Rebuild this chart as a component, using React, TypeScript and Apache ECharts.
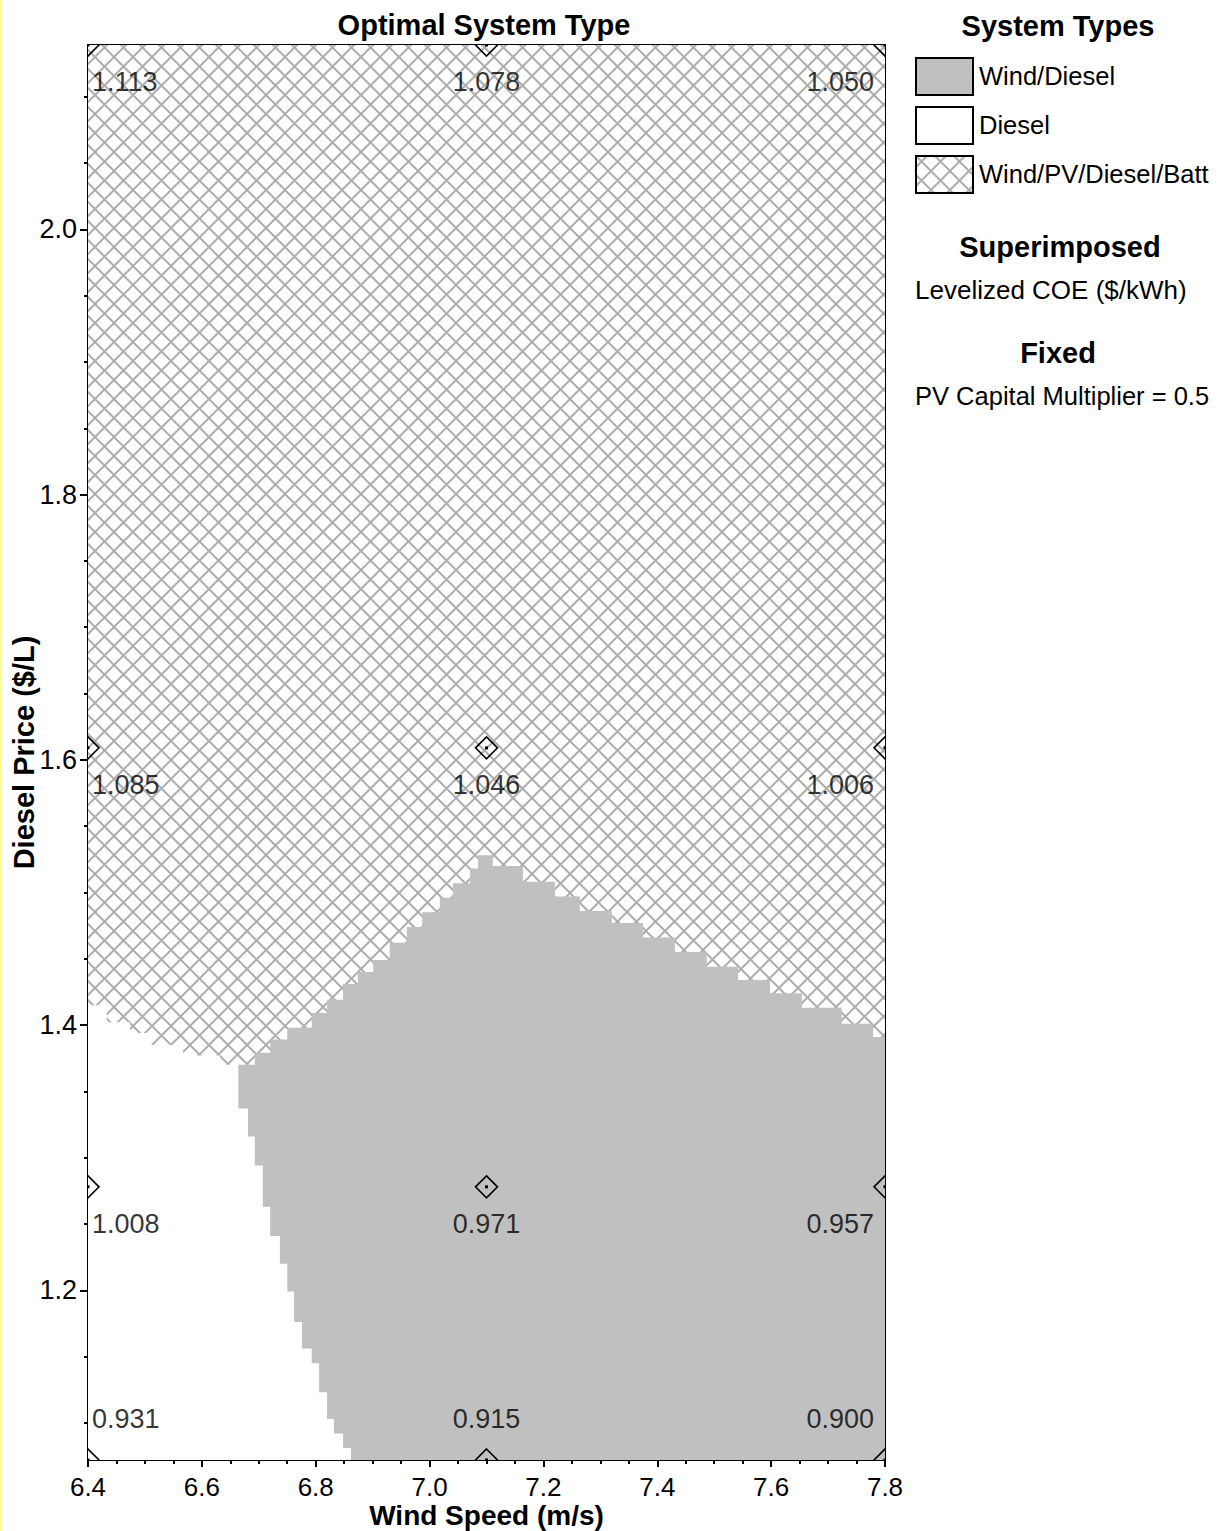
import React, { useEffect, useRef } from 'react';
import * as echarts from 'echarts';

const FONT = '"Liberation Sans", Arial, Helvetica, sans-serif';

// ---- Sensitivity grid (superimposed levelized COE, $/kWh) ----
const windSpeeds = [6.4, 7.1, 7.8];
const dieselPrices = [1.072, 1.278, 1.609, 2.139];
const coeAtPrice1072 = [0.931, 0.915, 0.9];
const coeAtPrice1278 = [1.008, 0.971, 0.957];
const coeAtPrice1609 = [1.085, 1.046, 1.006];
const coeAtPrice2139 = [1.113, 1.078, 1.05];
const coeRows = [coeAtPrice1072, coeAtPrice1278, coeAtPrice1609, coeAtPrice2139];

// ---- Axis ticks ----
const yTickValues = [1.2, 1.4, 1.6, 1.8, 2.0];
const yMinorTickValues = [1.1, 1.15, 1.25, 1.3, 1.35, 1.45, 1.5, 1.55, 1.65, 1.7, 1.75, 1.85, 1.9, 1.95, 2.05, 2.1];

// ---- Optimal system type boundaries (stair steps) ----
// Wind/Diesel region, upper edge: each step starts at a wind speed with a price level
const windDieselTopStartWind = [6.664, 6.693, 6.72, 6.75, 6.793, 6.82, 6.848, 6.874, 6.901, 6.93, 6.96, 6.987, 7.018, 7.041, 7.071, 7.085, 7.111, 7.164, 7.22, 7.264, 7.32, 7.375, 7.431, 7.487, 7.542, 7.598, 7.654, 7.724, 7.779];
const windDieselTopPrice = [1.37, 1.379, 1.389, 1.398, 1.409, 1.419, 1.431, 1.44, 1.449, 1.462, 1.474, 1.485, 1.496, 1.507, 1.518, 1.528, 1.52, 1.508, 1.497, 1.486, 1.477, 1.466, 1.455, 1.444, 1.434, 1.424, 1.413, 1.401, 1.391];
// Wind/Diesel region, left edge: each row starts at a price (top of row) with a wind speed
const windDieselLeftWind = [6.664, 6.681, 6.693, 6.707, 6.72, 6.737, 6.75, 6.762, 6.776, 6.793, 6.806, 6.82, 6.832, 6.848, 6.862];
const windDieselLeftTopPrice = [1.37, 1.337, 1.316, 1.294, 1.263, 1.241, 1.22, 1.199, 1.176, 1.156, 1.145, 1.123, 1.103, 1.092, 1.081];
// Diesel region, upper edge
const dieselTopStartWind = [6.4, 6.433, 6.474, 6.512, 6.567, 6.632];
const dieselTopPrice = [1.415, 1.402, 1.394, 1.385, 1.377, 1.37];

const systemTypes = ['Wind/Diesel', 'Diesel', 'Wind/PV/Diesel/Batt'];

const X_MIN = 6.4;
const X_MAX = 7.8;
const Y_MIN = dieselPrices[0];
const Y_MAX = dieselPrices[dieselPrices.length - 1];

const TILE = 19;
function hatchUrl(t: number) {
  const segs: string[] = [];
  for (const c of [-t, 0, t]) segs.push(`M-2 ${-2 + c}L${t + 2} ${t + 2 + c}`);
  for (const c of [0, t, 2 * t]) segs.push(`M-2 ${c + 2}L${t + 2} ${c - t - 2}`);
  const svg = `<svg xmlns="http://www.w3.org/2000/svg" width="${t}" height="${t}"><rect width="${t}" height="${t}" fill="#ffffff"/><path d="${segs.join('')}" stroke="#aeaeae" stroke-width="2" fill="none"/></svg>`;
  return 'data:image/svg+xml;charset=utf-8,' + encodeURIComponent(svg);
}
const HATCH = { image: hatchUrl(TILE), repeat: 'repeat', imageWidth: TILE, imageHeight: TILE };
const GRAY = '#c0c0c0';

function stairTop(startX: number[], levels: number[], endX: number): number[][] {
  const pts: number[][] = [];
  for (let i = 0; i < startX.length; i++) {
    const x1 = i + 1 < startX.length ? startX[i + 1] : endX;
    pts.push([startX[i], levels[i]], [x1, levels[i]]);
  }
  return pts;
}

function buildWindDiesel(): number[][] {
  const pts = stairTop(windDieselTopStartWind, windDieselTopPrice, X_MAX);
  pts.push([X_MAX, Y_MIN]);
  const n = windDieselLeftWind.length;
  for (let i = n - 1; i >= 0; i--) {
    const lower = i + 1 < n ? windDieselLeftTopPrice[i + 1] : Y_MIN;
    pts.push([windDieselLeftWind[i], lower], [windDieselLeftWind[i], windDieselLeftTopPrice[i]]);
  }
  return pts;
}

function buildDiesel(): number[][] {
  const pts: number[][] = [[X_MIN, Y_MIN]];
  const edge = windDieselLeftWind[0];
  pts.push(...stairTop(dieselTopStartWind, dieselTopPrice, edge));
  const last = dieselTopPrice[dieselTopPrice.length - 1];
  const farX = windDieselLeftWind[windDieselLeftWind.length - 1];
  pts.push([farX, last], [farX, Y_MIN]);
  return pts;
}

function polygonSeries(name: string, points: number[][], fill: any, z: number) {
  return {
    type: 'custom',
    name,
    coordinateSystem: 'cartesian2d',
    xAxisIndex: 0,
    yAxisIndex: 0,
    silent: true,
    clip: true,
    z,
    data: [points[0]],
    renderItem: (_params: any, api: any) => ({
      type: 'polygon',
      shape: { points: points.map((p) => api.coord(p)) },
      style: { fill, stroke: null, lineWidth: 0 },
    }),
  };
}

function buildOption() {
  const markerData: number[][] = [];
  const labelData: any[] = [];
  dieselPrices.forEach((p, ri) => {
    windSpeeds.forEach((w, ci) => {
      markerData.push([w, p]);
      labelData.push({
        value: [w, p],
        label: {
          formatter: coeRows[ri][ci].toFixed(3),
          align: ci === 0 ? 'left' : ci === 1 ? 'center' : 'right',
          offset: [ci === 0 ? 4 : ci === 1 ? 0 : -11, ri === 0 ? -41 : 37],
        },
      });
    });
  });

  const axisLine = { show: true, lineStyle: { color: '#000', width: 2 } };
  const tickStyle = { color: '#000', width: 2 };

  const legendTop = [58, 107, 156];
  const legendFills = [GRAY, '#ffffff', HATCH];

  const graphic: any[] = [
    { type: 'rect', shape: { x: 0, y: 0, width: 2, height: 1531 }, style: { fill: '#ffff88' }, silent: true },
    {
      type: 'text', x: 484, y: 25,
      style: { text: 'Optimal System Type', font: `bold 29px ${FONT}`, fill: '#000', align: 'center', verticalAlign: 'middle' },
    },
    {
      type: 'text', x: 1058, y: 26,
      style: { text: 'System Types', font: `bold 29px ${FONT}`, fill: '#000', align: 'center', verticalAlign: 'middle' },
    },
    {
      type: 'text', x: 1060, y: 247,
      style: { text: 'Superimposed', font: `bold 29px ${FONT}`, fill: '#000', align: 'center', verticalAlign: 'middle' },
    },
    {
      type: 'text', x: 915, y: 290,
      style: { text: 'Levelized COE ($/kWh)', font: `26px ${FONT}`, fill: '#000', align: 'left', verticalAlign: 'middle' },
    },
    {
      type: 'text', x: 1058, y: 353,
      style: { text: 'Fixed', font: `bold 29px ${FONT}`, fill: '#000', align: 'center', verticalAlign: 'middle' },
    },
    {
      type: 'text', x: 915, y: 396,
      style: { text: 'PV Capital Multiplier = 0.5', font: `25.5px ${FONT}`, fill: '#000', align: 'left', verticalAlign: 'middle' },
    },
  ];
  systemTypes.forEach((name, i) => {
    graphic.push({
      type: 'rect',
      shape: { x: 916, y: legendTop[i], width: 57, height: 37 },
      style: { fill: legendFills[i], stroke: '#000', lineWidth: 2 },
    });
    graphic.push({
      type: 'text', x: 979, y: legendTop[i] + 18,
      style: { text: name, font: `25.5px ${FONT}`, fill: '#000', align: 'left', verticalAlign: 'middle' },
    });
  });

  return {
    animation: false,
    backgroundColor: '#ffffff',
    grid: {
      left: 88, top: 45, right: 334, bottom: 71,
      show: true, borderColor: '#000', borderWidth: 2, backgroundColor: 'transparent',
      containLabel: false,
      outerBoundsMode: 'none',
    },
    xAxis: [
      {
        type: 'value', min: X_MIN, max: X_MAX, interval: 0.2, position: 'bottom',
        name: 'Wind Speed (m/s)', nameLocation: 'middle', nameGap: 41, nameMoveOverlap: false,
        nameTextStyle: { fontFamily: FONT, fontSize: 28, fontWeight: 'bold', color: '#000' },
        axisLine,
        axisTick: { show: true, length: 7, lineStyle: tickStyle },
        minorTick: { show: true, splitNumber: 4, length: 4, lineStyle: tickStyle },
        axisLabel: { fontFamily: FONT, fontSize: 26, color: '#000', margin: 14, formatter: (v: number) => v.toFixed(1) },
        splitLine: { show: false },
        minorSplitLine: { show: false },
      },
      {
        type: 'value', min: X_MIN, max: X_MAX, interval: 0.2, position: 'top',
        axisLine,
        axisTick: { show: true, inside: true, length: 5, lineStyle: tickStyle },
        minorTick: { show: true, splitNumber: 4, length: 4, lineStyle: tickStyle },
        axisLabel: { show: false },
        splitLine: { show: false },
      },
    ],
    yAxis: [
      {
        type: 'value', min: Y_MIN, max: Y_MAX, position: 'left',
        name: 'Diesel Price ($/L)', nameLocation: 'middle', nameGap: 50, nameMoveOverlap: false,
        nameTextStyle: { fontFamily: FONT, fontSize: 29, fontWeight: 'bold', color: '#000' },
        axisLine,
        axisTick: { show: true, length: 8, lineStyle: tickStyle, customValues: yTickValues },
        axisLabel: {
          fontFamily: FONT, fontSize: 27, color: '#000', margin: 11,
          customValues: yTickValues, formatter: (v: number) => v.toFixed(1),
        },
        splitLine: { show: false },
      },
      {
        type: 'value', min: Y_MIN, max: Y_MAX, position: 'left',
        axisLine: { show: false },
        axisTick: { show: true, length: 4, lineStyle: tickStyle, customValues: yMinorTickValues },
        axisLabel: { show: false },
        splitLine: { show: false },
      },
    ],
    graphic,
    series: [
      polygonSeries('Wind/PV/Diesel/Batt', [[X_MIN, Y_MIN], [X_MAX, Y_MIN], [X_MAX, Y_MAX], [X_MIN, Y_MAX]], HATCH, 1),
      polygonSeries('Diesel', buildDiesel(), '#ffffff', 2),
      polygonSeries('Wind/Diesel', buildWindDiesel(), GRAY, 3),
      {
        type: 'custom', name: 'sensitivity points', silent: true, clip: true, z: 4,
        coordinateSystem: 'cartesian2d',
        data: markerData,
        renderItem: (_params: any, api: any) => {
          const c = api.coord([api.value(0), api.value(1)]);
          const r = 11;
          return {
            type: 'group',
            children: [
              {
                type: 'polygon',
                shape: { points: [[c[0], c[1] - r], [c[0] + r, c[1]], [c[0], c[1] + r], [c[0] - r, c[1]]] },
                style: { fill: 'none', stroke: '#000', lineWidth: 1.6 },
              },
              {
                type: 'rect',
                shape: { x: c[0] - 1.5, y: c[1] - 1.5, width: 3, height: 3 },
                style: { fill: '#000' },
              },
            ],
          };
        },
      },
      {
        type: 'scatter', name: 'Levelized COE ($/kWh)', silent: true, clip: false, z: 5,
        symbolSize: 1,
        itemStyle: { color: 'rgba(0,0,0,0)' },
        label: {
          show: true, position: 'inside', fontFamily: FONT, fontSize: 27, color: '#000',
          verticalAlign: 'middle',
        },
        data: labelData,
      },
    ],
  };
}

export default function App() {
  const ref = useRef<HTMLDivElement>(null);
  useEffect(() => {
    document.body.style.margin = '0';
    const chart = echarts.init(ref.current as HTMLDivElement, undefined, { renderer: 'svg', width: 1219, height: 1531 });
    chart.setOption(buildOption() as any);
    return () => chart.dispose();
  }, []);
  return (
    <div
      ref={ref}
      style={{ position: 'absolute', left: 0, top: 0, width: 1219, height: 1531, background: '#fff' }}
    />
  );
}
